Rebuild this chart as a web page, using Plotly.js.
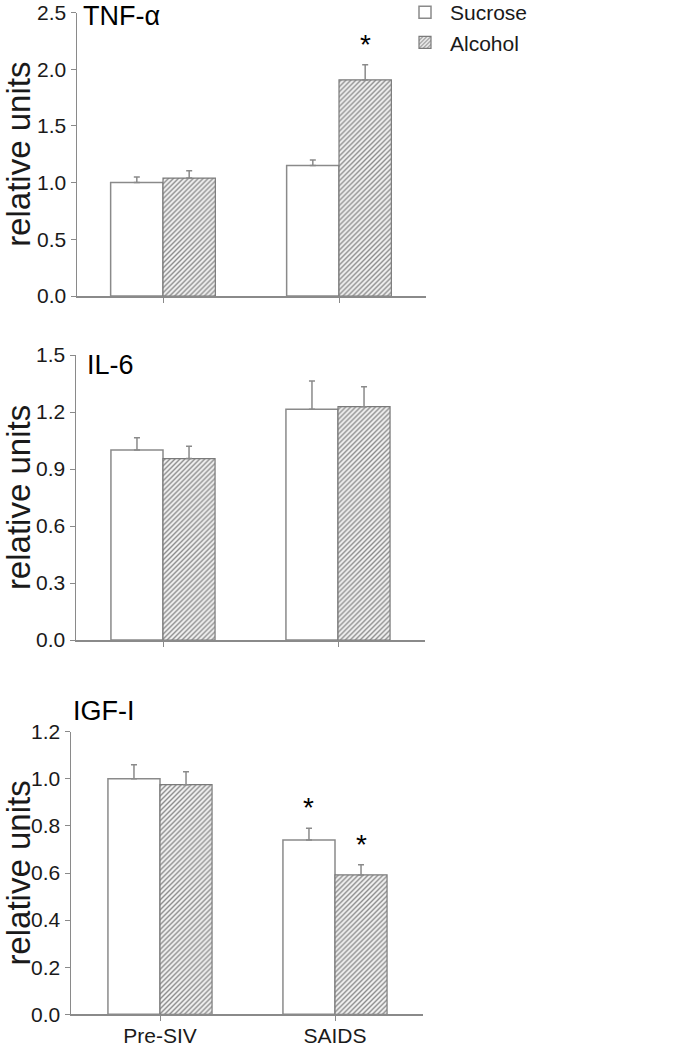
<!DOCTYPE html>
<html>
<head>
<meta charset="utf-8">
<script src="https://cdn.plot.ly/plotly-3.0.1.min.js"></script>
<style>html,body{margin:0;padding:0;background:#fff;}#chart{width:683px;height:1050px;}</style>
</head>
<body>
<div id="chart"></div>
<script>
// ---- data ----
const categories = ['Pre-SIV', 'SAIDS'];
const seriesNames = ['Sucrose', 'Alcohol'];
const panelTitles = ['TNF-\u03b1', 'IL-6', 'IGF-I'];

const tnfSucrose = [1.00, 1.15];
const tnfSucroseErr = [0.05, 0.05];
const tnfAlcohol = [1.04, 1.905];
const tnfAlcoholErr = [0.065, 0.135];

const il6Sucrose = [1.00, 1.215];
const il6SucroseErr = [0.065, 0.148];
const il6Alcohol = [0.955, 1.228];
const il6AlcoholErr = [0.065, 0.105];

const igfSucrose = [1.00, 0.74];
const igfSucroseErr = [0.06, 0.05];
const igfAlcohol = [0.975, 0.592];
const igfAlcoholErr = [0.055, 0.043];

// significance markers (*)
const tnfSucroseSig = [false, false];
const tnfAlcoholSig = [false, true];
const il6SucroseSig = [false, false];
const il6AlcoholSig = [false, false];
const igfSucroseSig = [false, true];
const igfAlcoholSig = [false, true];

const yTickStep = [0.5, 0.3, 0.2];
const yMax = [2.5, 1.5, 1.2];

// ---- styling ----
const W = 683, H = 1050;
const FONT = 'Liberation Sans, Arial, sans-serif';
const axisGray = '#8a8a8a';
const textCol = '#1a1a1a';

const panels = [
  {suc: tnfSucrose, sucE: tnfSucroseErr, alc: tnfAlcohol, alcE: tnfAlcoholErr, sucSig: tnfSucroseSig, alcSig: tnfAlcoholSig,
   px: [77, 426], centers: [163, 339], py: [12.5, 296], title: {x: 81, y: -1}},
  {suc: il6Sucrose, sucE: il6SucroseErr, alc: il6Alcohol, alcE: il6AlcoholErr, sucSig: il6SucroseSig, alcSig: il6AlcoholSig,
   px: [76, 425], centers: [163, 338], py: [355, 640], title: {x: 85, y: 348}},
  {suc: igfSucrose, sucE: igfSucroseErr, alc: igfAlcohol, alcE: igfAlcoholErr, sucSig: igfSucroseSig, alcSig: igfAlcoholSig,
   px: [71, 423], centers: [160, 335], py: [731.7, 1014.3], title: {x: 71, y: 694}}
];

const bargap = 0.405;
const halfOffset = (1 - bargap) / 4;

const traces = [];
const annotations = [];
const layout = {
  width: W, height: H,
  margin: {l: 0, r: 0, t: 0, b: 0, autoexpand: false},
  paper_bgcolor: '#fff', plot_bgcolor: '#fff',
  font: {family: FONT, color: textCol, size: 21},
  barmode: 'group', bargap: bargap, bargroupgap: 0,
  showlegend: true,
  legend: {x: 400 / W, y: 1 + 8 / H, xanchor: 'left', yanchor: 'top',
           font: {family: FONT, size: 21, color: textCol}, bgcolor: 'rgba(0,0,0,0)',
           tracegroupgap: 0, itemwidth: 40},
  annotations: annotations
};

panels.forEach((p, i) => {
  const n = i === 0 ? '' : String(i + 1);
  const xa = 'x' + n, ya = 'y' + n;
  const unit = p.centers[1] - p.centers[0];
  const r0 = (p.px[0] - p.centers[0]) / unit;
  const r1 = 1 + (p.px[1] - p.centers[1]) / unit;
  layout['xaxis' + n] = {
    domain: [p.px[0] / W, p.px[1] / W], anchor: ya,
    type: 'category', range: [r0, r1], fixedrange: true, automargin: false,
    showline: true, linecolor: axisGray, linewidth: 1.5,
    ticks: 'outside', ticklen: 5, tickcolor: axisGray, tickwidth: 1,
    ticklabelstandoff: -3,
    showgrid: false, zeroline: false,
    showticklabels: i === 2,
    tickfont: {family: FONT, size: 21, color: textCol}
  };
  layout['yaxis' + n] = {
    domain: [1 - p.py[1] / H, 1 - p.py[0] / H], anchor: xa,
    range: [0, yMax[i]], dtick: yTickStep[i], tick0: 0, tickformat: '.1f',
    fixedrange: true, automargin: false,
    showline: true, linecolor: axisGray, linewidth: 1.5,
    ticks: 'outside', ticklen: 5, tickcolor: axisGray, tickwidth: 1,
    showgrid: false, zeroline: false,
    tickfont: {family: FONT, size: 21, color: textCol},
    title: {text: 'relative units', font: {family: FONT, size: 33, color: textCol}, standoff: 2}
  };
  traces.push({
    type: 'bar', name: seriesNames[0], legendgroup: 'suc', showlegend: i === 0,
    x: categories, y: p.suc, xaxis: xa, yaxis: ya,
    marker: {color: '#ffffff', line: {color: axisGray, width: 1.5}},
    error_y: {type: 'data', array: p.sucE, symmetric: false, arrayminus: [0, 0], color: axisGray, thickness: 1.5, width: 3},
    hoverinfo: 'skip'
  });
  traces.push({
    type: 'bar', name: seriesNames[1], legendgroup: 'alc', showlegend: i === 0,
    x: categories, y: p.alc, xaxis: xa, yaxis: ya,
    marker: {color: '#f2f2f2', line: {color: '#7a7a7a', width: 1.2},
             pattern: {shape: '/', fgcolor: '#8c8c8c', bgcolor: '#f2f2f2', size: 3.5, solidity: 0.4}},
    error_y: {type: 'data', array: p.alcE, symmetric: false, arrayminus: [0, 0], color: axisGray, thickness: 1.5, width: 3},
    hoverinfo: 'skip'
  });
  // panel title
  annotations.push({
    xref: 'paper', yref: 'paper', x: p.title.x / W, y: 1 - p.title.y / H,
    xanchor: 'left', yanchor: 'top', showarrow: false,
    text: panelTitles[i], font: {family: FONT, size: 27, color: '#000'}
  });
  // significance stars
  [[p.suc, p.sucE, p.sucSig, -halfOffset], [p.alc, p.alcE, p.alcSig, halfOffset]].forEach(s => {
    s[2].forEach((sig, k) => {
      if (!sig) return;
      annotations.push({
        xref: xa, yref: ya, x: k + s[3], y: s[0][k] + s[1][k],
        xanchor: 'center', yanchor: 'bottom', yshift: 3, showarrow: false,
        text: '*', font: {family: FONT, size: 28, color: '#000'}
      });
    });
  });
});

Plotly.newPlot('chart', traces, layout, {displayModeBar: false, staticPlot: true});
</script>
</body>
</html>
